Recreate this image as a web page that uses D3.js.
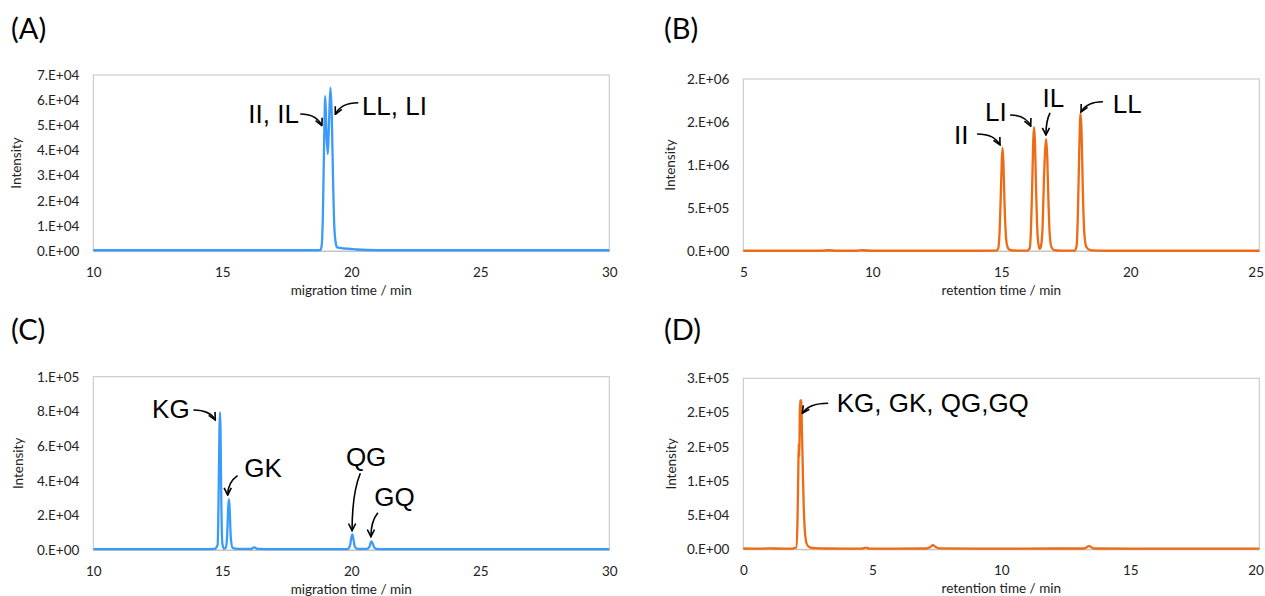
<!DOCTYPE html>
<html>
<head>
<meta charset="utf-8">
<script src="https://cdn.jsdelivr.net/npm/d3@7"></script>
<style>
  html, body { margin: 0; padding: 0; background: #fff; }
  svg { display: block; }
</style>
</head>
<body>
<svg id="chart" width="1265" height="596"></svg>
<script>
// ---------------- DATA ----------------
// Panel A: migration time (min) vs intensity
const aTime = [10, 12, 14, 16, 18, 18.5, 18.8, 18.85, 18.9, 18.95, 18.99, 19.04, 19.09, 19.14, 19.19, 19.24, 19.29, 19.34, 19.4, 19.45, 19.55, 19.7, 19.9, 20.2, 20.6, 21.5, 23, 26, 30];
const aIntensity = [300, 300, 300, 300, 300, 300, 400, 2000, 15000, 45000, 61600, 46000, 38600, 52000, 65000, 55000, 30000, 10000, 3000, 1500, 1200, 1000, 900, 600, 400, 300, 300, 300, 300];

// Panel B: retention time (min) vs intensity
const bTime = [5, 6, 7, 8, 8.3, 8.6, 9, 9.4, 9.6, 10, 11, 12, 13, 14, 14.8, 14.88, 14.93, 14.98, 15.02, 15.05, 15.08, 15.12, 15.17, 15.22, 15.3, 15.45, 15.7, 16.0, 16.1, 16.15, 16.2, 16.24, 16.27, 16.3, 16.35, 16.4, 16.45, 16.49, 16.54, 16.6, 16.65, 16.7, 16.74, 16.78, 16.83, 16.88, 16.95, 17.05, 17.3, 17.7, 17.85, 17.92, 17.97, 18.02, 18.07, 18.11, 18.16, 18.22, 18.3, 18.45, 18.7, 19, 20, 22, 25];
const bIntensity = [3000, 3000, 3000, 3000, 9000, 3000, 3000, 3000, 9000, 3000, 3000, 3000, 3000, 3000, 4000, 30000, 200000, 650000, 1050000, 1200000, 1050000, 600000, 220000, 70000, 18000, 6000, 4000, 4000, 30000, 250000, 800000, 1300000, 1440000, 1300000, 700000, 220000, 60000, 25000, 60000, 280000, 800000, 1180000, 1300000, 1100000, 550000, 180000, 40000, 10000, 4000, 3500, 6000, 60000, 450000, 1150000, 1600000, 1400000, 700000, 200000, 45000, 10000, 4000, 3000, 3000, 3000, 3000];

// Panel C: migration time (min) vs intensity
const cTime = [10, 12, 14, 14.7, 14.82, 14.86, 14.89, 14.91, 14.93, 14.96, 15.0, 15.06, 15.14, 15.19, 15.23, 15.26, 15.29, 15.33, 15.4, 15.6, 16.1, 16.24, 16.38, 17, 18, 19, 19.85, 19.95, 20.0, 20.04, 20.08, 20.14, 20.25, 20.6, 20.7, 20.75, 20.78, 20.82, 20.9, 21.05, 22, 25, 30];
const cIntensity = [500, 500, 500, 600, 3000, 35000, 70000, 79450, 70000, 30000, 4000, 800, 1500, 9000, 25000, 29400, 22000, 7000, 1200, 600, 600, 1500, 600, 500, 500, 500, 500, 2500, 7000, 9000, 6500, 1800, 600, 600, 1800, 4200, 5000, 4000, 1200, 500, 500, 500, 500];

// Panel D: retention time (min) vs intensity
const dTime = [0, 0.5, 1, 1.5, 1.9, 2.05, 2.1, 2.13, 2.15, 2.17, 2.19, 2.21, 2.23, 2.25, 2.27, 2.29, 2.31, 2.34, 2.38, 2.43, 2.5, 2.6, 2.8, 3.2, 4, 4.6, 4.75, 4.9, 6, 7.1, 7.25, 7.35, 7.45, 7.6, 9, 11, 13.2, 13.4, 13.6, 15, 17, 20];
const dIntensity = [1200, 900, 1300, 1000, 1100, 2500, 40000, 110000, 155000, 135000, 200000, 218000, 185000, 218000, 175000, 145000, 110000, 65000, 30000, 12000, 5000, 2500, 1600, 1200, 1000, 1100, 2500, 1100, 1000, 1200, 3500, 6000, 3500, 1300, 1000, 1100, 1200, 4500, 1200, 1000, 1100, 1000];

// Axis ticks and labels
const aXTicks = [10, 15, 20, 25, 30];
const bXTicks = [5, 10, 15, 20, 25];
const cXTicks = [10, 15, 20, 25, 30];
const dXTicks = [0, 5, 10, 15, 20];
const aYTicks = [0, 10000, 20000, 30000, 40000, 50000, 60000, 70000];
const aYLabels = ["0.E+00", "1.E+04", "2.E+04", "3.E+04", "4.E+04", "5.E+04", "6.E+04", "7.E+04"];
const bYTicks = [0, 500000, 1000000, 1500000, 2000000];
const bYLabels = ["0.E+00", "5.E+05", "1.E+06", "2.E+06", "2.E+06"];
const cYTicks = [0, 20000, 40000, 60000, 80000, 100000];
const cYLabels = ["0.E+00", "2.E+04", "4.E+04", "6.E+04", "8.E+04", "1.E+05"];
const dYTicks = [0, 50000, 100000, 150000, 200000, 250000];
const dYLabels = ["0.E+00", "5.E+04", "1.E+05", "2.E+05", "2.E+05", "3.E+05"];

// Peak annotations (text anchor, arrow start, arrow end — in data units)
const aNotes = [
  { text: "II, IL", tx: 16.01, ty: 50790, sx: 18.02, sy: 54490, ex: 18.86, ey: 49830, bend: "h" },
  { text: "LL, LI", tx: 20.41, ty: 54090, sx: 20.27, sy: 58980, ex: 19.38, ey: 54370, bend: "h" }
];
const bNotes = [
  { text: "II", tx: 13.17, ty: 1244000, sx: 14.06, sy: 1360000, ex: 14.95, ey: 1233000, bend: "h" },
  { text: "LI", tx: 14.37, ty: 1515000, sx: 15.34, sy: 1581000, ex: 16.14, ey: 1453000, bend: "h" },
  { text: "IL", tx: 16.60, ty: 1674000, sx: 16.89, sy: 1605000, ex: 16.73, ey: 1349000, bend: "v" },
  { text: "LL", tx: 19.32, ty: 1605000, sx: 18.94, sy: 1736000, ex: 18.09, ey: 1616000, bend: "h" }
];
const cNotes = [
  { text: "KG", tx: 12.28, ty: 75990, sx: 13.88, sy: 80780, ex: 14.73, ey: 75010, bend: "h" },
  { text: "GK", tx: 15.85, ty: 42290, sx: 15.59, sy: 42870, ex: 15.21, ey: 31735, bend: "v" },
  { text: "QG", tx: 19.79, ty: 48640, sx: 20.35, sy: 44260, ex: 20.03, ey: 11140, bend: "v" },
  { text: "GQ", tx: 20.89, ty: 25390, sx: 21.03, sy: 21520, ex: 20.76, ey: 7674, bend: "v" }
];
const dNotes = [
  { text: "KG, GK, QG,GQ", tx: 3.62, ty: 200300, sx: 3.29, sy: 213450, ex: 2.29, ey: 198830, bend: "h" }
];

// ---------------- LAYOUT / STYLE ----------------
const BLUE = "#3A9BFA";
const ORANGE = "#EE6A14";
const panels = [
  { label: "(A)", lx: 11, ly: 39, time: aTime, values: aIntensity, color: BLUE, xDomain: [10, 30], yMax: 70000,
    xTicks: aXTicks, yTicks: aYTicks, yLabels: aYLabels, xTitle: "migration time / min", notes: aNotes,
    box: { l: 93.3, r: 609.3, t: 75, b: 251 }, ytx: 17 },
  { label: "(B)", lx: 664, ly: 39, time: bTime, values: bIntensity, color: ORANGE, xDomain: [5, 25], yMax: 2000000,
    xTicks: bXTicks, yTicks: bYTicks, yLabels: bYLabels, xTitle: "retention time / min", notes: bNotes,
    box: { l: 743.3, r: 1259.3, t: 79, b: 251 }, ytx: 671 },
  { label: "(C)", lx: 11, ly: 340, time: cTime, values: cIntensity, color: BLUE, xDomain: [10, 30], yMax: 100000,
    xTicks: cXTicks, yTicks: cYTicks, yLabels: cYLabels, xTitle: "migration time / min", notes: cNotes,
    box: { l: 93.3, r: 609.3, t: 376.7, b: 550 }, ytx: 19 },
  { label: "(D)", lx: 664, ly: 340, time: dTime, values: dIntensity, color: ORANGE, xDomain: [0, 20], yMax: 250000,
    xTicks: dXTicks, yTicks: dYTicks, yLabels: dYLabels, xTitle: "retention time / min", notes: dNotes,
    box: { l: 743.3, r: 1259.3, t: 378.3, b: 549.3 }, ytx: 672 }
];

const svg = d3.select("#chart");
const W = 1265;
const TICK_FONT = "Lato, 'Open Sans', sans-serif";
const NOTE_FONT = "'Liberation Sans', Arial, sans-serif";

svg.append("defs").append("marker")
  .attr("id", "arrow")
  .attr("markerUnits", "userSpaceOnUse")
  .attr("viewBox", "0 0 10 10")
  .attr("refX", 9).attr("refY", 5)
  .attr("markerWidth", 9).attr("markerHeight", 9)
  .attr("orient", "auto")
  .append("path")
  .attr("d", "M1,1 L9,5 L1,9")
  .attr("fill", "none")
  .attr("stroke", "#000")
  .attr("stroke-width", 1.8)
  .attr("stroke-linejoin", "miter");

panels.forEach(p => {
  const b = p.box;
  const x = d3.scaleLinear().domain(p.xDomain).range([b.l, b.r]);
  const y = d3.scaleLinear().domain([0, p.yMax]).range([b.b, b.t]);
  const g = svg.append("g");

  // panel label
  g.append("text")
    .attr("x", p.lx).attr("y", p.ly)
    .attr("font-family", TICK_FONT)
    .attr("font-size", 29)
    .attr("fill", "#000")
    .text(p.label);

  // plot border
  g.append("rect")
    .attr("x", b.l).attr("y", b.t)
    .attr("width", b.r - b.l).attr("height", b.b - b.t)
    .attr("fill", "none")
    .attr("stroke", "#C4C4C4")
    .attr("stroke-width", 1);

  // y axis
  const yAxis = d3.axisLeft(y)
    .tickValues(p.yTicks)
    .tickFormat((d, i) => p.yLabels[i])
    .tickSize(0)
    .tickPadding(14);
  const yg = g.append("g").attr("transform", `translate(${b.l},0)`).call(yAxis);
  yg.select(".domain").remove();
  yg.selectAll("text").attr("font-family", TICK_FONT).attr("font-size", 13.5).attr("fill", "#222");

  // x axis
  const xAxis = d3.axisBottom(x)
    .tickValues(p.xTicks)
    .tickFormat(d3.format("d"))
    .tickSize(0)
    .tickPadding(16);
  const xg = g.append("g").attr("transform", `translate(0,${b.b})`).call(xAxis);
  xg.select(".domain").attr("stroke", "#C4C4C4");
  xg.selectAll("text").attr("font-family", TICK_FONT).attr("font-size", 13.5).attr("fill", "#222");
  // keep tick labels inside the page at the right edge
  xg.selectAll(".tick text").each(function () {
    const bb = this.getBBox();
    const tr = this.parentNode.transform.baseVal.consolidate();
    const absRight = (tr ? tr.matrix.e : 0) + bb.x + bb.width;
    if (absRight > W - 1) d3.select(this).attr("dx", (W - 1 - absRight) + "px");
  });

  // axis titles
  g.append("text")
    .attr("x", (b.l + b.r) / 2).attr("y", b.b + 44)
    .attr("text-anchor", "middle")
    .attr("font-family", TICK_FONT).attr("font-size", 13.5).attr("fill", "#222")
    .text(p.xTitle);
  g.append("text")
    .attr("transform", `translate(${p.ytx + 4},${(b.t + b.b) / 2}) rotate(-90)`)
    .attr("text-anchor", "middle")
    .attr("font-family", TICK_FONT).attr("font-size", 13.5).attr("fill", "#222")
    .text("Intensity");

  // data line
  const pts = p.time.map((t, i) => [t, p.values[i]]);
  const line = d3.line()
    .x(d => x(d[0]))
    .y(d => y(d[1]))
    .curve(d3.curveMonotoneX);
  g.append("path")
    .datum(pts)
    .attr("d", line)
    .attr("fill", "none")
    .attr("stroke", p.color)
    .attr("stroke-width", 2.3)
    .attr("stroke-linejoin", "round");

  // annotations
  p.notes.forEach(n => {
    const sx = x(n.sx), sy = y(n.sy), ex = x(n.ex), ey = y(n.ey);
    let cx, cy;
    if (n.bend === "h") { cx = sx + 0.75 * (ex - sx); cy = sy; }
    else { cx = ex; cy = sy + 0.35 * (ey - sy); }
    g.append("path")
      .attr("d", `M${sx},${sy} Q${cx},${cy} ${ex},${ey}`)
      .attr("fill", "none")
      .attr("stroke", "#000")
      .attr("stroke-width", 1.6)
      .attr("marker-end", "url(#arrow)");
    g.append("text")
      .attr("x", x(n.tx)).attr("y", y(n.ty))
      .attr("font-family", NOTE_FONT)
      .attr("font-size", 26)
      .attr("fill", "#000")
      .text(n.text);
  });
});
</script>
</body>
</html>
